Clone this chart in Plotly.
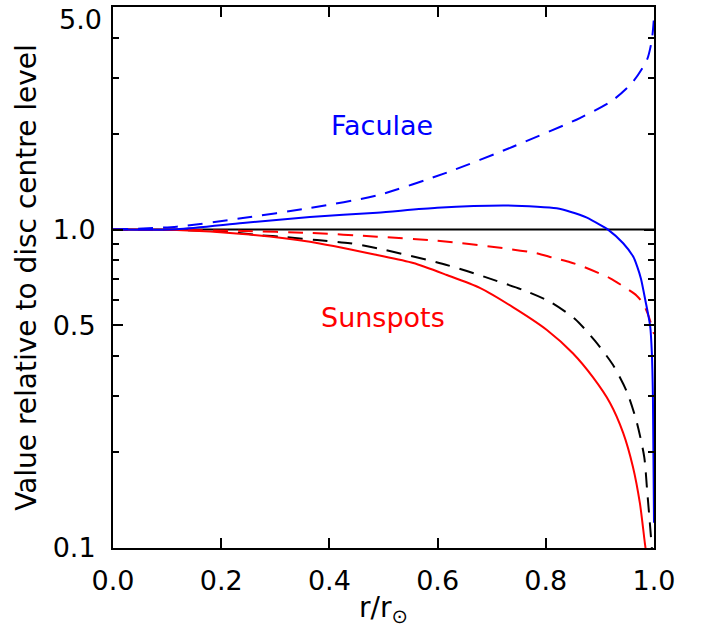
import plotly.graph_objects as go
import math

# ---- data ----
ref_x = [0.0, 1.0]
ref_v = [1.0, 1.0]

fac_dash_x = [0.0, 0.118, 0.24, 0.364, 0.488, 0.617, 0.739, 0.863, 0.924, 0.961, 0.987, 0.996, 1.0]
fac_dash_v = [1.0, 1.021, 1.087, 1.169, 1.28, 1.51, 1.82, 2.24, 2.55, 2.91, 3.41, 3.94, 4.65]

fac_solid_x = [0.0, 0.118, 0.24, 0.364, 0.488, 0.599, 0.721, 0.784, 0.82, 0.845, 0.876, 0.906, 0.915,
               0.943, 0.962, 0.969, 0.976, 0.984, 0.993, 0.996, 0.998, 1.0]
fac_solid_v = [1.0, 1.003, 1.049, 1.095, 1.13, 1.17, 1.19, 1.18, 1.166, 1.138, 1.09, 1.021, 1.0,
               0.906, 0.82, 0.765, 0.70, 0.60, 0.497, 0.41, 0.30, 0.12]

spot_dash_x = [0.0, 0.118, 0.24, 0.364, 0.488, 0.599, 0.721, 0.78, 0.814, 0.845, 0.869, 0.919,
               0.945, 0.968, 0.98, 0.99, 1.0]
spot_dash_v = [1.0, 0.998, 0.99, 0.976, 0.95, 0.923, 0.874, 0.845, 0.815, 0.79, 0.765, 0.703,
               0.66, 0.62, 0.585, 0.535, 0.47]

ld_dash_x = [0.0, 0.118, 0.21, 0.266, 0.322, 0.377, 0.438, 0.488, 0.598, 0.654, 0.709, 0.758,
             0.808, 0.854, 0.891, 0.924, 0.950, 0.968, 0.982, 0.987, 0.993, 0.996]
ld_dash_v = [1.0, 0.997, 0.985, 0.962, 0.946, 0.927, 0.906, 0.874, 0.79, 0.741, 0.69, 0.646,
             0.593, 0.524, 0.447, 0.376, 0.309, 0.249, 0.193, 0.154, 0.116, 0.1]

spot_solid_x = [0.0, 0.118, 0.24, 0.364, 0.488, 0.555, 0.617, 0.678, 0.739, 0.802, 0.85,
                0.887, 0.919, 0.943, 0.961, 0.974, 0.983, 0.985]
spot_solid_v = [1.0, 0.997, 0.969, 0.916, 0.832, 0.785, 0.72, 0.656, 0.571, 0.484, 0.409,
                0.344, 0.285, 0.23, 0.18, 0.138, 0.104, 0.098]

x_tickvals = [0.0, 0.2, 0.4, 0.6, 0.8, 1.0]
x_ticktext = ["0.0", "0.2", "0.4", "0.6", "0.8", "1.0"]
y_tickvals = [0.1, 0.5, 1.0]
y_ticktext = ["0.1", "0.5", "1.0"]
y_top_label = "5.0"
y_minor = [0.2, 0.3, 0.4, 0.6, 0.7, 0.8, 0.9, 2, 3, 4]

BLUE = "#0000ff"
RED = "#ff0000"
FONT = "DejaVu Sans"
FS = 27
DASH = "15px,10px"


def line(color, dash=None):
    d = dict(color=color, width=2, shape="spline", smoothing=0.7)
    if dash:
        d["dash"] = dash
    return d


fig = go.Figure()
fig.add_trace(go.Scatter(x=ref_x, y=ref_v, mode="lines", line=dict(color="black", width=2)))
fig.add_trace(go.Scatter(x=ld_dash_x, y=ld_dash_v, mode="lines", line=line("black", DASH)))
fig.add_trace(go.Scatter(x=spot_solid_x, y=spot_solid_v, mode="lines", line=line(RED)))
fig.add_trace(go.Scatter(x=spot_dash_x, y=spot_dash_v, mode="lines", line=line(RED, DASH)))
fig.add_trace(go.Scatter(x=fac_solid_x, y=fac_solid_v, mode="lines", line=line(BLUE)))
fig.add_trace(go.Scatter(x=fac_dash_x, y=fac_dash_v, mode="lines", line=line(BLUE, DASH)))

fig.add_annotation(x=0.497, y=math.log10(2.13), text="Faculae", showarrow=False,
                   font=dict(family=FONT, size=FS, color=BLUE), xanchor="center", yanchor="middle")
fig.add_annotation(x=0.499, y=math.log10(0.53), text="Sunspots", showarrow=False,
                   font=dict(family=FONT, size=FS, color=RED), xanchor="center", yanchor="middle")
# top y tick label, nudged down so it stays inside the page like the reference
fig.add_annotation(xref="paper", yref="paper", x=0, y=1, text=y_top_label, showarrow=False,
                   font=dict(family=FONT, size=FS, color="black"), xanchor="right",
                   yanchor="middle", xshift=-10, yshift=-12, borderpad=0)

fig.update_layout(
    width=702, height=634,
    margin=dict(l=113, r=48, t=7, b=86),
    plot_bgcolor="white", paper_bgcolor="white",
    showlegend=False,
    font=dict(family=FONT, size=FS, color="black"),
    xaxis=dict(
        range=[0, 1], showline=True, linecolor="black", linewidth=2, mirror="allticks",
        ticks="inside", ticklen=10, tickwidth=2, tickcolor="black",
        tickvals=x_tickvals, ticktext=x_ticktext, showgrid=False, zeroline=False,
        tickfont=dict(family=FONT, size=FS, color="black"), ticklabelstandoff=8,
        automargin=False, ticklabeloverflow="allow",
        title=dict(text="r/r<sub>⊙</sub>", font=dict(family=FONT, size=28, color="black"), standoff=2),
    ),
    yaxis=dict(
        type="log", range=[-1, math.log10(5.0)], showline=True, linecolor="black", linewidth=2,
        mirror="allticks", ticks="inside", ticklen=10, tickwidth=2, tickcolor="black",
        tickvals=y_tickvals, ticktext=y_ticktext, showgrid=False, zeroline=False,
        tickfont=dict(family=FONT, size=FS, color="black"), ticklabelstandoff=10,
        automargin=False, ticklabeloverflow="allow",
        minor=dict(tickmode="array", tickvals=y_minor, ticks="inside", ticklen=6, tickwidth=2,
                   tickcolor="black", showgrid=False),
        title=dict(text="Value relative to disc centre level",
                   font=dict(family=FONT, size=28, color="black"), standoff=8),
    ),
)

# remove the default 8px page margin so the figure fills the 702x634 window exactly
fig.write_html("out.html", config={"displayModeBar": False},
               post_script="document.body.style.margin='0px';")
